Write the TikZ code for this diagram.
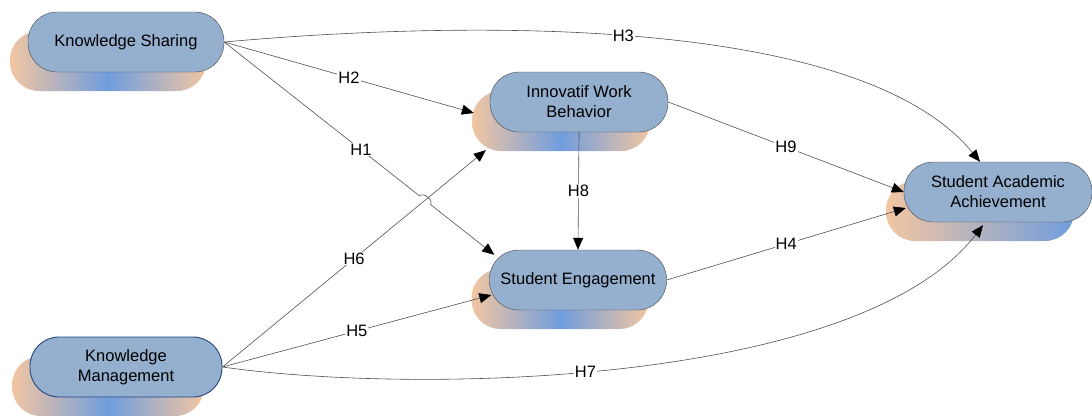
\documentclass[tikz,border=0pt]{standalone}
\usepackage{fontspec}
\setmainfont{Liberation Sans}
\usetikzlibrary{arrows.meta,shadows,calc,intersections}
\definecolor{boxfill}{RGB}{149,175,206}
\definecolor{boxline}{RGB}{70,70,70}
\definecolor{kmline}{RGB}{38,70,130}
\definecolor{shadeorange}{RGB}{242,198,162}
\definecolor{shadeblue}{RGB}{112,157,222}
\definecolor{linkgray}{RGB}{80,80,80}
\tikzset{
  pill/.style={draw=boxline,fill=boxfill,rounded corners=29pt,minimum height=60pt,
    inner sep=0pt,align=center,font=\fontsize{16.5}{20}\selectfont},
  pillshadow/.style={general shadow={shadow xshift=-18pt,shadow yshift=-19pt,
    left color=shadeorange,right color=shadeorange,middle color=shadeblue}},
  pillshadowr/.style={general shadow={shadow xshift=-18pt,shadow yshift=-19pt,
    left color=shadeorange,right color=shadeblue}},
  link/.style={draw=linkgray,line width=0.6pt,-{Triangle[length=12pt,width=10pt,color=black]}},
  hyp/.style={fill=white,inner sep=1pt,font=\fontsize{16.5}{20}\selectfont}
}

\begin{document}
\begin{tikzpicture}[x=1pt,y=-1pt]
\useasboundingbox (0,0) rectangle (1092,415);

\node[pill,pillshadow,minimum width=196pt] (ks) at (126,42) {Knowledge Sharing};
\node[pill,pillshadow,minimum width=178pt] (iwb) at (579,102) {Innovatif Work\\Behavior};
\node[pill,pillshadow,minimum width=177pt] (se) at (578,280) {Student Engagement};
\node[pill,pillshadowr,minimum width=188pt] (saa) at (998,192) {Student Academic\\Achievement};
\node[pill,pillshadow,draw=kmline,line width=0.9pt,minimum width=192pt] (km) at (126,367) {Knowledge\\Management};

% arrow ends
\coordinate (iwb-a) at ($(iwb.west)+(-16,11)$);
\coordinate (iwb-b) at ($(iwb.south west)+(-4,18)$);
\coordinate (se-a) at ($(se.north west)+(5,5)$);
\coordinate (se-b) at ($(se.west)+(2,15)$);
\coordinate (saa-a) at ($(saa.north)+(-18,0)$);
\coordinate (saa-c) at ($(saa.west)+(2,16)$);
\coordinate (saa-d) at ($(saa.south)+(-15,3)$);

\path[name path=h1] (ks.east) -- (se-a);
\path[name path=h6] (km.east) -- (iwb-b);
\path[name intersections={of=h1 and h6,by=jump}];

\draw[link] (ks.east) -- node[hyp]{H2} (iwb-a);
\draw[link] (ks.east) -- node[hyp,pos=0.7]{H1} ($(jump)!7pt!(ks.east)$)
  to[bend left=90] ($(jump)!7pt!(se-a)$) -- (se-a);
\draw[link] (ks.east) .. controls (470,20) and (860,15) .. node[hyp,pos=0.47]{H3} (saa-a);
\draw[link] (km.east) -- node[hyp]{H6} (iwb-b);
\draw[link] (km.east) -- node[hyp]{H5} (se-b);
\draw[link] (km.east) .. controls (420,395) and (860,385) .. node[hyp,pos=0.45]{H7} (saa-d);
\draw[link] (iwb.south) -- node[hyp]{H8} (se.north);
\draw[link] (iwb.east) -- node[hyp]{H9} (saa.west);
\draw[link] (se.east) -- node[hyp]{H4} (saa-c);
\end{tikzpicture}
\end{document}
